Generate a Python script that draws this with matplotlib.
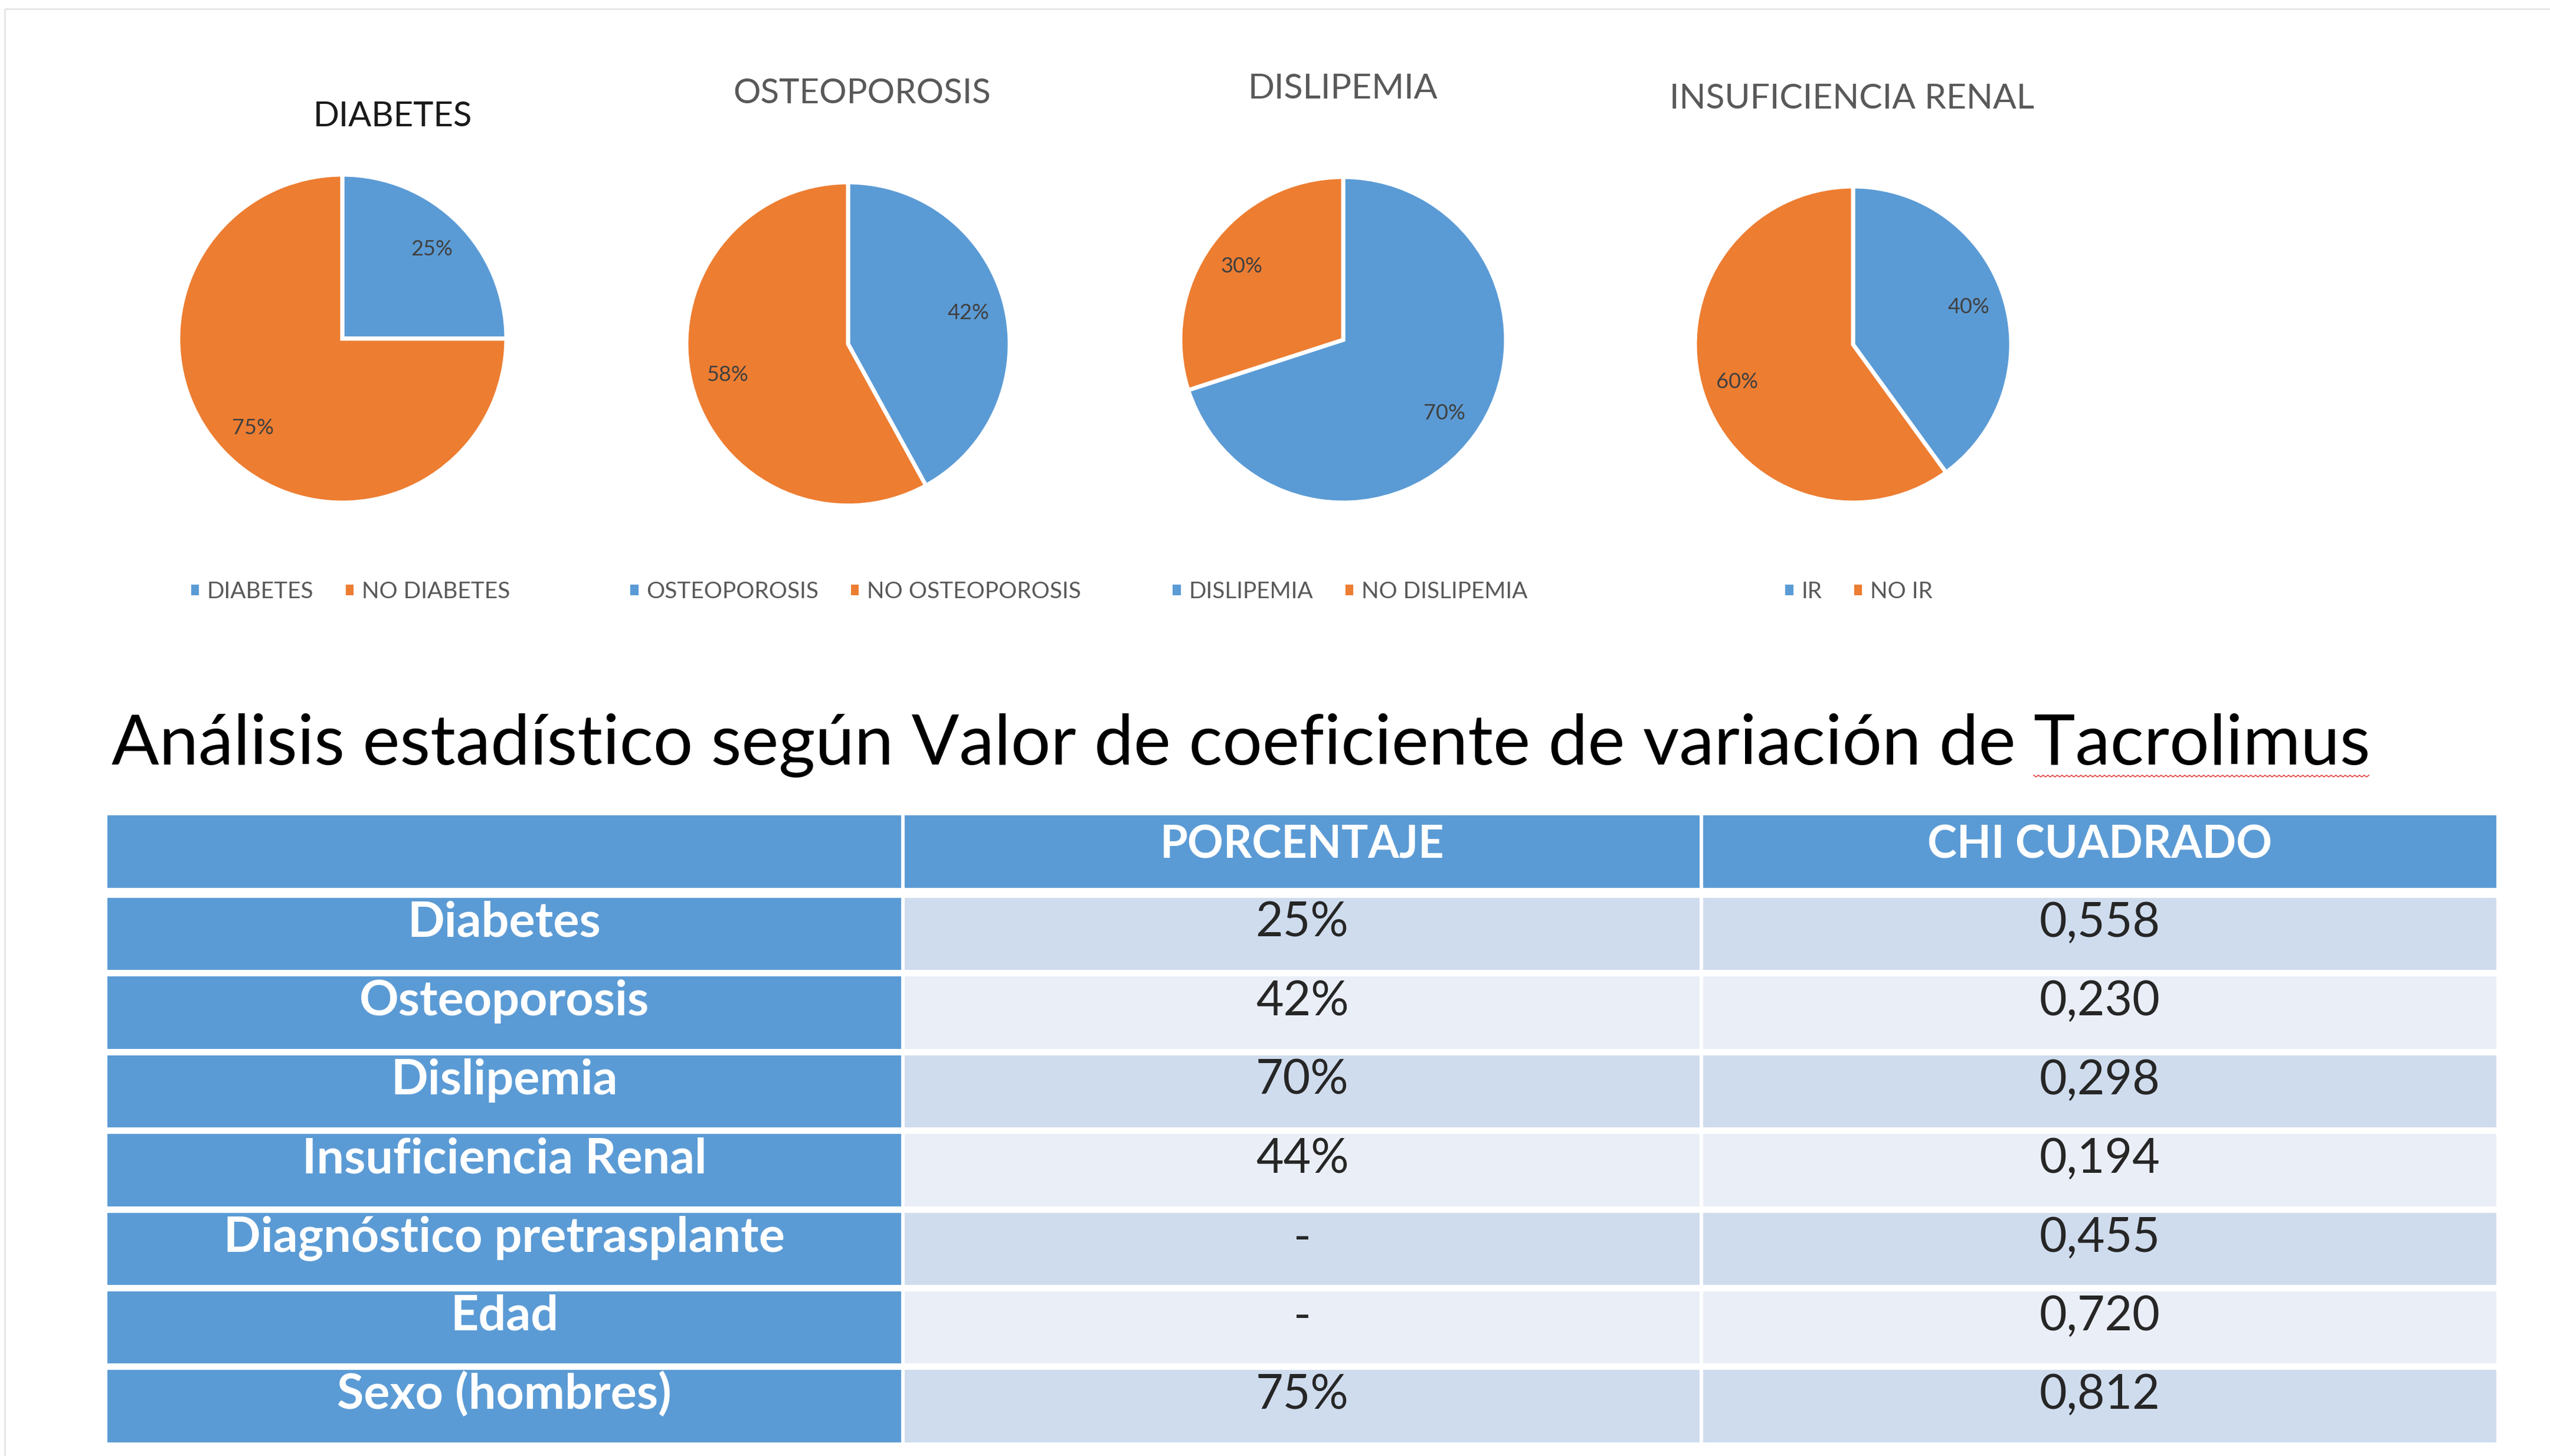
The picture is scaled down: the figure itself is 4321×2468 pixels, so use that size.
import numpy as np
import matplotlib
matplotlib.use("Agg")
import matplotlib.pyplot as plt
from matplotlib.patches import Rectangle

plt.rcParams['font.family'] = ['Lato', 'DejaVu Sans']

# ---------------- data ----------------
pie_titles = ['DIABETES', 'OSTEOPOROSIS', 'DISLIPEMIA', 'INSUFICIENCIA RENAL']
pie_yes = [25, 42, 70, 40]
pie_no = [75, 58, 30, 60]
legend_yes = ['DIABETES', 'OSTEOPOROSIS', 'DISLIPEMIA', 'IR']
legend_no = ['NO DIABETES', 'NO OSTEOPOROSIS', 'NO DISLIPEMIA', 'NO IR']

main_title = 'Análisis estadístico según Valor de coeficiente de variación de Tacrolimus'
headers = ['', 'PORCENTAJE', 'CHI CUADRADO']
row_labels = ['Diabetes', 'Osteoporosis', 'Dislipemia', 'Insuficiencia Renal',
              'Diagnóstico pretrasplante', 'Edad', 'Sexo (hombres)']
porcentaje = ['25%', '42%', '70%', '44%', '-', '-', '75%']
chi_cuadrado = ['0,558', '0,230', '0,298', '0,194', '0,455', '0,720', '0,812']

# ---------------- layout / style ----------------
W, H = 4321, 2468
BLUE = '#5B9BD5'
ORANGE = '#ED7D31'
ROW_DARK = '#CFDCEE'
ROW_LIGHT = '#E9EEF7'

fig = plt.figure(figsize=(W / 100, H / 100), dpi=100)
fig.patch.set_facecolor('white')
bg = fig.add_axes([0, 0, 1, 1])
bg.set_xlim(0, W)
bg.set_ylim(H, 0)
bg.axis('off')
renderer = fig.canvas.get_renderer()

# faint slide frame
bg.plot([8, W], [15, 15], color='#e6e6e6', lw=2, solid_capstyle='butt')
bg.plot([8, 8], [15, H], color='#e6e6e6', lw=2, solid_capstyle='butt')


def fit_size(s, width, **kw):
    t = bg.text(0, 0, s, fontsize=100, **kw)
    w = t.get_window_extent(renderer).width
    t.remove()
    return 100 * width / w


# ---------------- pies ----------------
pie_centers = [(580, 574), (1437, 583), (2276, 576), (3140, 584)]
pie_radii = [278, 274, 276, 268]
title_x = [665, 1461, 2275, 3138]
title_base = [214, 175, 167, 184]
title_w = [270, 437, 323, 618]
title_col = ['#1a1a1a', '#595959', '#595959', '#595959']
legend_cx = [594, 1450, 2288, 3150]
legend_y = 1003

pad = 1.05
for i in range(4):
    cx, cy = pie_centers[i]
    r = pie_radii[i] * pad
    ax = fig.add_axes([(cx - r) / W, 1 - (cy + r) / H, 2 * r / W, 2 * r / H])
    wedges, _, autotexts = ax.pie(
        [pie_yes[i], pie_no[i]], colors=[BLUE, ORANGE], startangle=90,
        counterclock=False, autopct=lambda p: '%d%%' % round(p),
        pctdistance=0.77,
        wedgeprops=dict(edgecolor='white', linewidth=5),
        textprops=dict(color='#404040', fontsize=26))
    ax.set_xlim(-pad, pad)
    ax.set_ylim(-pad, pad)
    ax.set_aspect('equal')
    ax.axis('off')

    fs = fit_size(pie_titles[i], title_w[i])
    bg.text(title_x[i], title_base[i], pie_titles[i], ha='center', va='baseline',
            fontsize=fs, color=title_col[i])

    leg = ax.legend(wedges, [legend_yes[i], legend_no[i]], loc='center',
                    bbox_to_anchor=(legend_cx[i] / W, 1 - legend_y / H),
                    bbox_transform=fig.transFigure, ncol=2, frameon=False,
                    fontsize=28, handlelength=0.35, handleheight=0.35,
                    handletextpad=0.35, columnspacing=1.4, borderpad=0)
    for txt in leg.get_texts():
        txt.set_color('#595959')
    for h in leg.legend_handles:
        h.set_edgecolor('none')

# ---------------- main title ----------------
tx, tbase = 189, 1296
fs_title = fit_size(main_title, 3830)
t = bg.text(tx, tbase, main_title, ha='left', va='baseline', fontsize=fs_title,
            color='black')
full_w = t.get_window_extent(renderer).width
tmp = bg.text(0, 0, 'Tacrolimus', fontsize=fs_title)
tac_w = tmp.get_window_extent(renderer).width
tmp.remove()
xs = np.arange(tx + full_w - tac_w, tx + full_w, 4.0)
ys = 1314 + 3 * (np.arange(len(xs)) % 2)
bg.plot(xs, ys, color='#e04040', lw=1.2)

# ---------------- table ----------------
col_edges = [(182, 1527), (1533, 2880), (2886, 4230)]
head_top, head_bot = 1382, 1505
row_top0 = 1522
row_step = 133.4
row_h = 122.4

fs_head = fit_size('CHI CUADRADO', 584, fontweight='bold')
fs_lab = fit_size('Diagnóstico pretrasplante', 952, fontweight='bold')
fs_val = fit_size('0,558', 205)

# header
for j, (x0, x1) in enumerate(col_edges):
    bg.add_patch(Rectangle((x0, head_top), x1 - x0, head_bot - head_top,
                           facecolor=BLUE, edgecolor='none'))
    if headers[j]:
        bg.text((x0 + x1) / 2, head_top + 0.54 * (head_bot - head_top) + 6, headers[j],
                ha='center', va='baseline', fontsize=fs_head, fontweight='bold',
                color='white')

# body
for i in range(len(row_labels)):
    y0 = row_top0 + i * row_step
    fill = ROW_DARK if i % 2 == 0 else ROW_LIGHT
    cells = [row_labels[i], porcentaje[i], chi_cuadrado[i]]
    for j, (x0, x1) in enumerate(col_edges):
        bg.add_patch(Rectangle((x0, y0), x1 - x0, row_h,
                               facecolor=BLUE if j == 0 else fill, edgecolor='none'))
        base = y0 + 0.49 * row_h + 6
        if j == 0:
            bg.text((x0 + x1) / 2, base, cells[j], ha='center', va='baseline',
                    fontsize=fs_lab, fontweight='bold', color='white')
        else:
            bg.text((x0 + x1) / 2, base, cells[j], ha='center', va='baseline',
                    fontsize=fs_val, color='#262626')

fig.savefig('out.png', dpi=100, facecolor='white')
